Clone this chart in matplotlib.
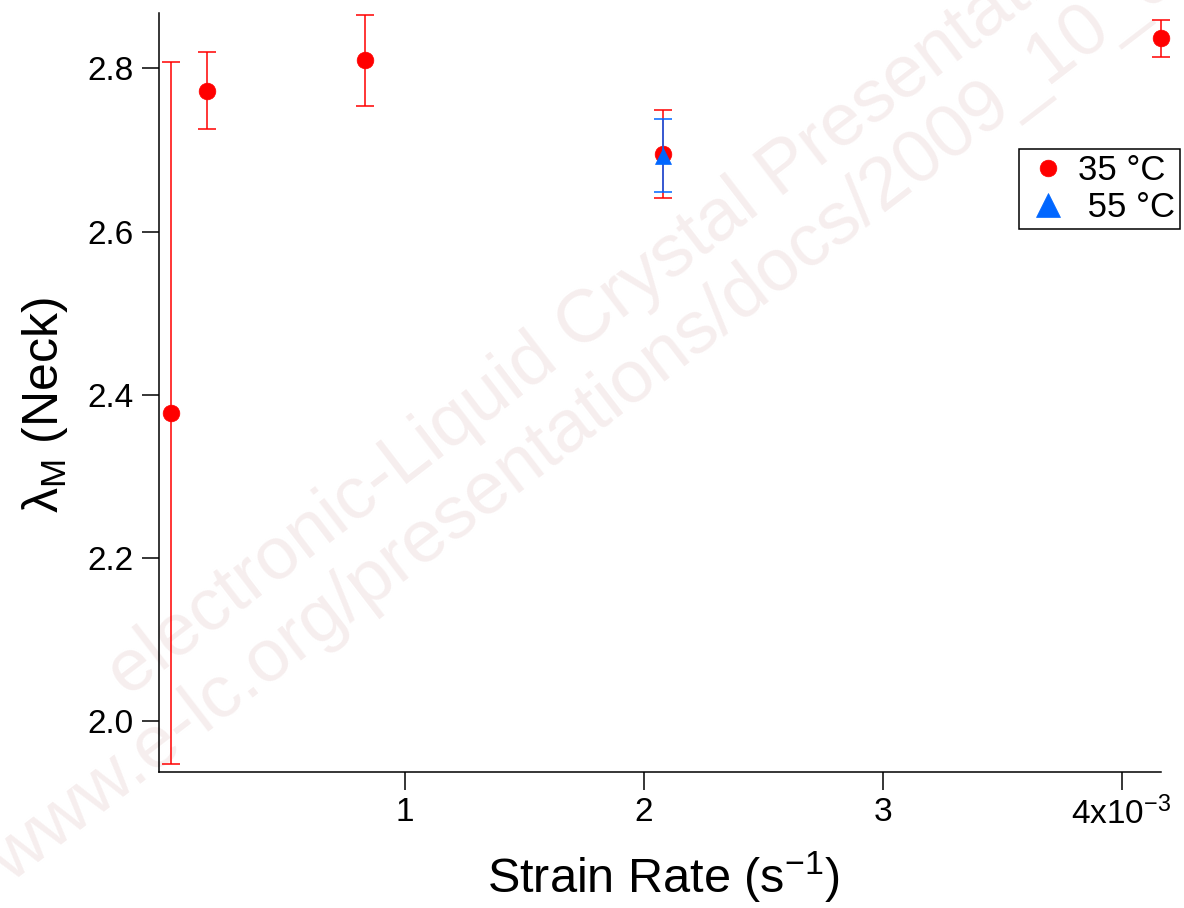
import matplotlib
matplotlib.use("Agg")
import matplotlib.pyplot as plt

plt.rcParams["font.family"] = ["Liberation Sans", "DejaVu Sans"]
plt.rcParams["mathtext.fontset"] = "custom"
plt.rcParams["mathtext.rm"] = "Liberation Sans"
plt.rcParams["mathtext.it"] = "Liberation Sans:italic"
plt.rcParams["mathtext.default"] = "regular"

# Strain rate in units of 1e-3 s^-1, neck draw ratio with symmetric errors
rate_35 = [0.019, 0.172, 0.834, 2.079, 4.165]
lam_35 = [2.378, 2.773, 2.810, 2.695, 2.837]
err_35 = [0.430, 0.047, 0.056, 0.054, 0.023]

rate_55 = [2.079]
lam_55 = [2.693]
err_55 = [0.045]

labels = ["35 \u00b0C", " 55 \u00b0C"]
x_ticks = [1, 2, 3, 4]
x_ticklabels = ["1", "2", "3", r"4x10$^{-3}$"]
y_ticks = [2.0, 2.2, 2.4, 2.6, 2.8]
y_ticklabels = ["2.0", "2.2", "2.4", "2.6", "2.8"]

W, H = 1184, 908
fig = plt.figure(figsize=(W / 100, H / 100), dpi=100)
fig.patch.set_facecolor("white")

# faint diagonal watermark behind the axes
wm_color = "#f6eeee"
fig.text(128 / W, 1 - 698 / H, "electronic-Liquid Crystal Presentations",
         rotation=37.5, rotation_mode="anchor", ha="left", va="baseline",
         fontsize=54, color=wm_color, zorder=-1)
fig.text(10 / W, 1 - 884 / H, "www.e-lc.org/presentations/docs/2009_10_06",
         rotation=37.5, rotation_mode="anchor", ha="left", va="baseline",
         fontsize=54, color=wm_color, zorder=-1)

ax = fig.add_axes([158.5 / W, 1 - 771.7 / H, (1161 - 158.5) / W, (771.7 - 13) / H])
ax.set_facecolor("none")

red = "#ff0000"
blue = "#0066ff"
eb35 = ax.errorbar(rate_35, lam_35, yerr=err_35, fmt="o", color=red, ecolor=red,
                   markersize=12, mec=red, elinewidth=1.1,
                   capsize=6.5, capthick=1.1, clip_on=False, zorder=3)
eb55 = ax.errorbar(rate_55, lam_55, yerr=err_55, fmt="^", color=blue, ecolor=blue,
                   markersize=12, mec=blue, elinewidth=1.1,
                   capsize=6.5, capthick=1.1, clip_on=False, zorder=4)
eb35[0].set_markeredgewidth(0.5)
eb55[0].set_markeredgewidth(0.5)

ax.set_xlim(-0.032, 4.165)
ax.set_ylim(1.938, 2.868)

for s in ("top", "right"):
    ax.spines[s].set_visible(False)
for s in ("left", "bottom"):
    ax.spines[s].set_linewidth(1.1)

ax.set_xticks(x_ticks)
ax.set_xticklabels(x_ticklabels)
ax.set_yticks(y_ticks)
ax.set_yticklabels(y_ticklabels)
ax.tick_params(axis="x", direction="out", length=13, width=1.1, pad=5, labelsize=24)
ax.tick_params(axis="y", direction="out", length=12, width=1.1, pad=6, labelsize=24)

fig.text(663 / W, 1 - 893 / H, r"Strain Rate (s$^{-1}$)", ha="center", va="baseline",
         fontsize=35)
fig.text(58 / W, 1 - 405 / H, r"$\lambda_{M}$ (Neck)", rotation=90,
         rotation_mode="anchor", ha="center", va="baseline", fontsize=36)

leg = ax.legend([eb35[0], eb55[0]], labels, loc="upper left",
                bbox_to_anchor=(1019 / W, 1 - 149 / H), bbox_transform=fig.transFigure,
                borderaxespad=0, fontsize=25, frameon=True, fancybox=False,
                framealpha=1, edgecolor="black", handlelength=1.36,
                handletextpad=0.19, labelspacing=0.1, borderpad=0.15)
leg.get_frame().set_linewidth(1.1)
leg.set_zorder(5)
leg.legend_handles[1].set_markersize(17)

fig.savefig("out.png", dpi=100)
